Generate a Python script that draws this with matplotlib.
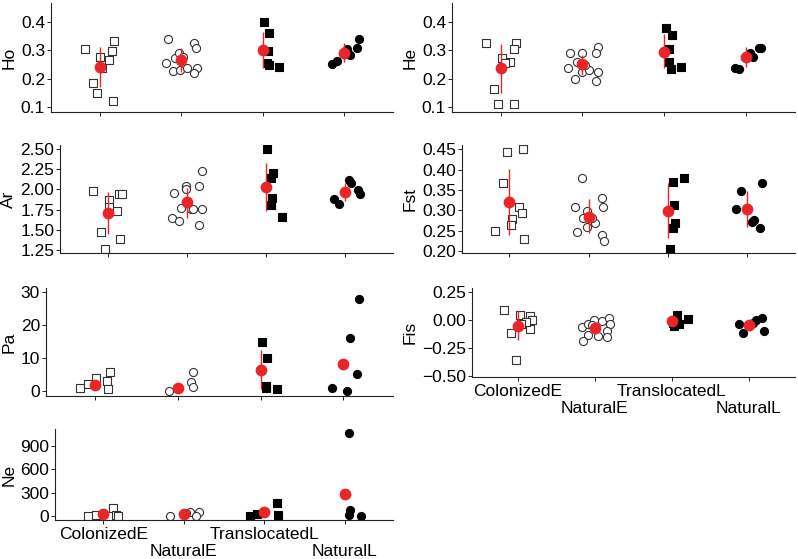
import numpy as np
import matplotlib
matplotlib.use("Agg")
import matplotlib.pyplot as plt
from matplotlib.ticker import FixedLocator

plt.rcParams['font.family'] = ['Liberation Sans', 'DejaVu Sans']

groups = ["ColonizedE", "NaturalE", "TranslocatedL", "NaturalL"]

# ---------------- data ----------------
# Ho
ho_vals = [[0.303, 0.277, 0.186, 0.151, 0.123, 0.266, 0.298, 0.332, 0.237],
           [0.339, 0.254, 0.227, 0.272, 0.291, 0.231, 0.237, 0.324, 0.307, 0.237, 0.221, 0.275],
           [0.400, 0.359, 0.297, 0.256, 0.248, 0.242],
           [0.251, 0.262, 0.303, 0.283, 0.309, 0.338]]
ho_jit = [[-0.176, 0.008, -0.082, -0.033, 0.164, 0.115, 0.155, 0.180, 0.029],
          [-0.155, -0.184, -0.102, -0.074, -0.020, -0.012, 0.078, 0.160, 0.184, 0.192, 0.164, 0.020],
          [0.020, 0.082, 0.070, 0.049, 0.082, 0.204],
          [-0.147, -0.086, 0.037, 0.070, 0.164, 0.180]]
ho_mean = [0.242, 0.266, 0.301, 0.291]
ho_lo = [0.170, 0.225, 0.237, 0.260]
ho_hi = [0.312, 0.307, 0.365, 0.324]

# He
he_vals = [[0.326, 0.326, 0.303, 0.274, 0.258, 0.255, 0.164, 0.112, 0.112],
           [0.289, 0.289, 0.239, 0.260, 0.199, 0.225, 0.231, 0.312, 0.291, 0.225, 0.191, 0.250],
           [0.380, 0.353, 0.303, 0.258, 0.234, 0.242],
           [0.239, 0.233, 0.291, 0.277, 0.309, 0.307]]
he_jit = [[-0.176, 0.184, 0.159, 0.020, 0.118, 0.049, -0.082, -0.029, 0.163],
          [-0.155, -0.012, -0.176, -0.065, -0.094, -0.012, 0.082, 0.192, 0.163, 0.192, 0.171, 0.029],
          [0.020, 0.090, 0.061, 0.053, 0.078, 0.204],
          [-0.135, -0.082, 0.049, 0.082, 0.163, 0.184]]
he_mean = [0.237, 0.251, 0.295, 0.275]
he_lo = [0.151, 0.213, 0.237, 0.242]
he_hi = [0.322, 0.283, 0.356, 0.312]

# Ar
ar_vals = [[1.984, 1.865, 1.786, 1.729, 1.469, 1.390, 1.262, 1.947, 1.947],
           [1.960, 2.042, 2.005, 2.038, 2.224, 1.642, 1.613, 1.774, 1.757, 1.757, 1.757, 1.564],
           [2.496, 2.207, 2.145, 1.889, 1.803, 1.663],
           [1.881, 1.819, 2.112, 2.075, 1.988, 1.943]]
ar_jit = [[-0.189, 0.013, 0.013, 0.122, -0.088, 0.155, -0.038, 0.147, 0.185],
          [-0.164, -0.013, -0.017, 0.155, 0.185, -0.189, -0.101, -0.076, 0.050, 0.080, 0.185, 0.155],
          [0.013, 0.088, 0.067, 0.080, 0.059, 0.202],
          [-0.143, -0.080, 0.042, 0.076, 0.160, 0.181]]
ar_mean = [1.704, 1.848, 2.030, 1.968]
ar_lo = [1.444, 1.642, 1.733, 1.860]
ar_hi = [1.972, 2.013, 2.331, 2.075]

# Fst
fst_vals = [[0.443, 0.450, 0.366, 0.307, 0.293, 0.279, 0.264, 0.248, 0.230],
            [0.308, 0.379, 0.282, 0.298, 0.258, 0.246, 0.270, 0.330, 0.307, 0.239, 0.225, 0.280],
            [0.369, 0.380, 0.313, 0.268, 0.256, 0.205],
            [0.303, 0.348, 0.272, 0.276, 0.257, 0.368]]
fst_jit = [[-0.034, 0.168, -0.076, 0.122, 0.164, 0.034, 0.021, -0.181, 0.185],
           [-0.172, -0.088, -0.067, -0.017, -0.017, -0.151, 0.080, 0.164, 0.185, 0.164, 0.193, 0.038],
           [0.059, 0.202, 0.080, 0.088, 0.067, 0.025],
           [-0.143, -0.084, 0.055, 0.084, 0.160, 0.189]]
fst_mean = [0.320, 0.284, 0.298, 0.303]
fst_lo = [0.239, 0.243, 0.231, 0.260]
fst_hi = [0.401, 0.328, 0.366, 0.348]

# Pa
pa_vals = [[0.81, 2.13, 3.85, 3.14, 5.78, 0.71],
           [0.10, 5.88, 2.84, 1.11],
           [15.0, 10.14, 1.52, 1.01, 0.71],
           [0.81, 0.0, 16.0, 5.17, 27.97]]
pa_jit = [[-0.185, -0.089, 0.012, 0.145, 0.173, 0.157],
          [-0.109, 0.181, 0.153, 0.181],
          [0.020, 0.081, 0.060, 0.060, 0.202],
          [-0.141, 0.040, 0.081, 0.161, 0.190]]
pa_mean = [1.82, 0.81, 6.39, 8.21]
pa_lo = [np.nan, np.nan, 0.51, np.nan]
pa_hi = [np.nan, np.nan, 12.47, np.nan]

# Fis
fis_vals = [[0.090, 0.050, -0.116, 0.035, -0.001, -0.077, -0.017, -0.358, -0.031],
            [-0.056, -0.032, 0.005, -0.007, 0.023, -0.032, -0.092, -0.146, -0.137, -0.127, -0.188, -0.040],
            [0.044, 0.014, -0.046, -0.031, -0.010, -0.020],
            [-0.031, -0.116, -0.001, 0.020, -0.092, -0.020]]
fis_jit = [[-0.182, 0.022, -0.087, 0.152, 0.186, 0.160, 0.100, -0.030, 0.043],
           [-0.173, -0.095, -0.009, 0.087, 0.186, 0.195, 0.152, 0.160, 0.035, -0.095, -0.160, -0.043],
           [0.065, 0.208, 0.030, 0.087, 0.043, 0.013],
           [-0.130, -0.074, 0.087, 0.173, 0.195, 0.056]]
fis_mean = [-0.046, -0.070, -0.005, -0.040]
fis_lo = [-0.176, np.nan, np.nan, np.nan]
fis_hi = [0.084, np.nan, np.nan, np.nan]

# Ne
ne_vals = [[0, 13, 99, 13, 5],
           [4, 56, 56, 0, 34],
           [0, 26, 171, 13],
           [1063, 77, 13, 0]]
ne_jit = [[-0.186, -0.091, 0.116, 0.153, 0.186],
          [-0.166, 0.083, 0.186, 0.153, 0.029],
          [-0.178, -0.095, 0.153, 0.174],
          [0.054, 0.070, 0.050, 0.199]]
ne_mean = [21, 21, 47, 283]
ne_lo = [np.nan, np.nan, np.nan, np.nan]
ne_hi = [np.nan, np.nan, np.nan, np.nan]

# ---------------- styling ----------------
RED = '#E8262A'
FS = 12.5
marker_style = [dict(marker='s', facecolors='white', edgecolors='#333333', s=30),
                dict(marker='o', facecolors='white', edgecolors='#333333', s=34),
                dict(marker='s', facecolors='black', edgecolors='black', s=30),
                dict(marker='o', facecolors='black', edgecolors='black', s=34)]

W, H = 798, 559
fig = plt.figure(figsize=(W / 100, H / 100), dpi=100)


def add_ax(x0, x1, top, bottom):
    return fig.add_axes([x0 / W, 1 - bottom / H, (x1 - x0) / W, (bottom - top) / H])


def panel(ax, label, vals, jit, mean, lo, hi, ylim, yticks, yfmt, xlabels=False):
    for i in range(4):
        x = (i + 1) + np.asarray(jit[i])
        ax.scatter(x, vals[i], linewidths=0.8, zorder=2, **marker_style[i])
    xc = np.arange(1, 5)
    for i in range(4):
        if not np.isnan(lo[i]):
            ax.plot([xc[i], xc[i]], [lo[i], hi[i]], color=RED, lw=1.0, zorder=3,
                    solid_capstyle='butt')
    ax.scatter(xc, mean, s=72, color=RED, linewidths=0, zorder=4)
    ax.set_xlim(0.4, 4.6)
    ax.set_ylim(*ylim)
    ax.set_yticks(yticks)
    ax.set_yticklabels([yfmt.format(t).replace('-', '\u2212') for t in yticks])
    for s in ['top', 'right']:
        ax.spines[s].set_visible(False)
    for s in ['left', 'bottom']:
        ax.spines[s].set_linewidth(0.8)
        ax.spines[s].set_color('#222222')
    ax.tick_params(axis='y', length=2.6, width=0.7, pad=1.5, labelsize=FS, colors='#222222',
                   labelcolor='black')
    ax.tick_params(axis='x', which='both', length=2.8, width=0.7, colors='#222222',
                   labelcolor='black', labelsize=FS)
    ax.set_ylabel(label, fontsize=FS, labelpad=3)
    if xlabels:
        ax.set_xticks([1, 3])
        ax.set_xticklabels([groups[0], groups[2]])
        ax.xaxis.set_minor_locator(FixedLocator([2, 4]))
        ax.set_xticks([2, 4], minor=True)
        ax.set_xticklabels([groups[1], groups[3]], minor=True)
        ax.tick_params(axis='x', which='major', pad=2.0)
        ax.tick_params(axis='x', which='minor', pad=14.5)
    else:
        ax.set_xticks([1, 2, 3, 4])
        ax.set_xticklabels([])


ax = add_ax(50.7, 393, 3, 112)
panel(ax, 'Ho', ho_vals, ho_jit, ho_mean, ho_lo, ho_hi, (0.0835, 0.466),
      [0.1, 0.2, 0.3, 0.4], '{:.1f}')

ax = add_ax(451.7, 795, 3, 112)
panel(ax, 'He', he_vals, he_jit, he_mean, he_lo, he_hi, (0.0835, 0.466),
      [0.1, 0.2, 0.3, 0.4], '{:.1f}')

ax = add_ax(60, 393, 145, 253)
panel(ax, 'Ar', ar_vals, ar_jit, ar_mean, ar_lo, ar_hi, (1.213, 2.55),
      [1.25, 1.50, 1.75, 2.00, 2.25, 2.50], '{:.2f}')

ax = add_ax(461.7, 795, 145, 253)
panel(ax, 'Fst', fst_vals, fst_jit, fst_mean, fst_lo, fst_hi, (0.195, 0.4606),
      [0.20, 0.25, 0.30, 0.35, 0.40, 0.45], '{:.2f}')

ax = add_ax(45.7, 393, 288, 396)
panel(ax, 'Pa', pa_vals, pa_jit, pa_mean, pa_lo, pa_hi, (-1.5, 31.2),
      [0, 10, 20, 30], '{:d}')

ax = add_ax(471.7, 795, 288, 377)
panel(ax, 'Fis', fis_vals, fis_jit, fis_mean, fis_lo, fis_hi, (-0.507, 0.29),
      [-0.50, -0.25, 0.00, 0.25], '{:.2f}', xlabels=True)

ax = add_ax(55, 393, 429, 520)
panel(ax, 'Ne', ne_vals, ne_jit, ne_mean, ne_lo, ne_hi, (-51, 1118),
      [0, 300, 600, 900], '{:d}', xlabels=True)

fig.savefig('out.png', dpi=100)
